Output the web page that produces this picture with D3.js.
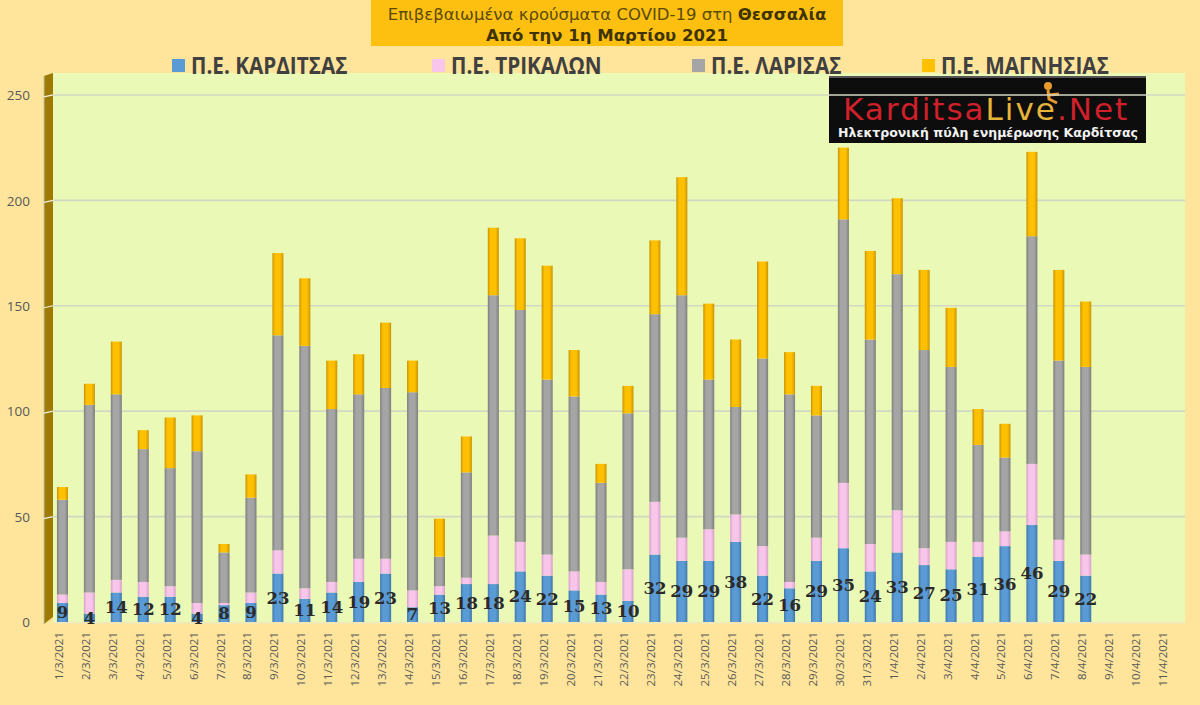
<!DOCTYPE html>
<html><head><meta charset="utf-8">
<script src="https://cdn.jsdelivr.net/npm/d3@7/dist/d3.min.js"></script>
<style>
html,body{margin:0;padding:0;background:#FEE59B;}
svg{display:block;}
</style></head>
<body>
<svg id="chart" width="1200" height="705"></svg>
<script>
const dates = ["1/3/2021","2/3/2021","3/3/2021","4/3/2021","5/3/2021","6/3/2021","7/3/2021","8/3/2021","9/3/2021","10/3/2021",
"11/3/2021","12/3/2021","13/3/2021","14/3/2021","15/3/2021","16/3/2021","17/3/2021","18/3/2021","19/3/2021","20/3/2021",
"21/3/2021","22/3/2021","23/3/2021","24/3/2021","25/3/2021","26/3/2021","27/3/2021","28/3/2021","29/3/2021","30/3/2021",
"31/3/2021","1/4/2021","2/4/2021","3/4/2021","4/4/2021","5/4/2021","6/4/2021","7/4/2021","8/4/2021","9/4/2021",
"10/4/2021","11/4/2021"];
const karditsa = [9,4,14,12,12,4,8,9,23,11,14,19,23,7,13,18,18,24,22,15,13,10,32,29,29,38,22,16,29,35,24,33,27,25,31,36,46,29,22,0,0,0];
const trikala  = [4,10,6,7,5,5,1,5,11,5,5,11,7,8,4,3,23,14,10,9,6,15,25,11,15,13,14,3,11,31,13,20,8,13,7,7,29,10,10,0,0,0];
const larisa   = [45,89,88,63,56,72,24,45,102,115,82,78,81,94,14,50,114,110,83,83,47,74,89,115,71,51,89,89,58,125,97,112,94,83,46,35,108,85,89,0,0,0];
const magnisia = [6,10,25,9,24,17,4,11,39,32,23,19,31,15,18,17,32,34,54,22,9,13,35,56,36,32,46,20,14,34,42,36,38,28,17,16,40,43,31,0,0,0];
const seriesNames = ["Π.Ε. ΚΑΡΔΙΤΣΑΣ","Π.Ε. ΤΡΙΚΑΛΩΝ","Π.Ε. ΛΑΡΙΣΑΣ","Π.Ε. ΜΑΓΝΗΣΙΑΣ"];
const yTicks = [0,50,100,150,200,250];
const titleLine1 = "Επιβεβαιωμένα κρούσματα COVID-19 στη ";
const titleBold = "Θεσσαλία";
const titleLine2 = "Από την 1η Μαρτίου 2021";

const colors = ["#5B9BD5","#F7C6EA","#A5A5A5","#FFC000"];
const edges  = ["#3F77AC","#D9A0CB","#7E7E7E","#C99500"];

const svg = d3.select("#chart");
const table = dates.map((d,i)=>({date:d, k:karditsa[i], t:trikala[i], l:larisa[i], m:magnisia[i]}));
const keys = ["k","t","l","m"];
const stack = d3.stack().keys(keys)(table);

const x = d3.scaleBand().domain(dates).range([49,1180]).paddingInner(0.59).paddingOuter(0.295);
const y = d3.scaleLinear().domain([0,260.4]).range([622,73]);

// gradients
const defs = svg.append("defs");
colors.forEach((c,i)=>{
  const g = defs.append("linearGradient").attr("id","g"+i).attr("x1","0").attr("x2","1").attr("y1","0").attr("y2","0");
  g.append("stop").attr("offset","0").attr("stop-color",edges[i]);
  g.append("stop").attr("offset","0.25").attr("stop-color",c);
  g.append("stop").attr("offset","0.7").attr("stop-color",c);
  g.append("stop").attr("offset","1").attr("stop-color",edges[i]);
});

// background
svg.append("rect").attr("width",1200).attr("height",705).attr("fill","#FEE59B");

// plot area
const plotL = 53, plotR = 1185;
svg.append("rect").attr("x",plotL).attr("y",y.range()[1]).attr("width",plotR-plotL).attr("height",y(0)-y.range()[1]).attr("fill","#EAF9B5");

// 3D wall
svg.append("path")
  .attr("d",`M44,${y.range()[1]+3} L53,${y.range()[1]} L53,${y(0)-5} L44,${y(0)+2} Z`)
  .attr("fill","#9E7B00");
svg.append("line").attr("x1",44).attr("x2",44).attr("y1",y.range()[1]+3).attr("y2",y(0)+2).attr("stroke","#b8c4b0").attr("stroke-width",1);

// logo
const logo = svg.append("g");
logo.append("rect").attr("x",829).attr("y",76).attr("width",317).attr("height",67).attr("fill","#0d0d0d");
logo.append("rect").attr("x",829).attr("y",76).attr("width",317).attr("height",2).attr("fill","#555");
const lt = logo.append("text").attr("x",843).attr("y",120).attr("font-family","'DejaVu Sans', sans-serif").attr("font-size",31).attr("letter-spacing",2);
lt.append("tspan").attr("fill","#D0202A").text("Karditsa");
lt.append("tspan").attr("fill","#E7B43A").text("Live");
lt.append("tspan").attr("fill","#D0202A").text(".Net");
logo.append("circle").attr("cx",1048).attr("cy",86).attr("r",4).attr("fill","#E89A2A");
logo.append("path").attr("d","M1048,90 L1049,99 L1057,103 M1049,95 L1059,94").attr("stroke","#E89A2A").attr("stroke-width",3).attr("fill","none");
logo.append("text").attr("x",988).attr("y",137).attr("text-anchor","middle").attr("fill","#f2f2f2")
  .attr("font-family","'DejaVu Sans', sans-serif").attr("font-weight","bold").attr("font-size",12.5)
  .text("Ηλεκτρονική πύλη ενημέρωσης Καρδίτσας");

// gridlines
svg.append("g").selectAll("line").data(yTicks.filter(v=>v>0)).join("line")
  .attr("x1",plotL).attr("x2",plotR).attr("y1",d=>y(d)).attr("y2",d=>y(d))
  .attr("stroke","#D3D7C4").attr("stroke-width",1.6);
svg.append("g").selectAll("line").data(yTicks.filter(v=>v>0)).join("line")
  .attr("x1",44).attr("x2",53).attr("y1",d=>y(d)+2).attr("y2",d=>y(d))
  .attr("stroke","#f0f0e0").attr("stroke-width",1.2);
// floor
svg.append("line").attr("x1",plotL).attr("x2",plotR).attr("y1",y(0)+1).attr("y2",y(0)+1).attr("stroke","#F3E7B4").attr("stroke-width",2);

// y axis labels via axis
const yAxis = d3.axisLeft(y).tickValues(yTicks).tickSize(0).tickPadding(0);
const ya = svg.append("g").attr("transform","translate(30,0)").call(yAxis);
ya.select(".domain").remove();
ya.selectAll("text").attr("font-family","'Open Sans', sans-serif").attr("font-size",13.5).attr("fill","#595959").attr("dy","0.35em");

// bars
svg.append("g").selectAll("g").data(stack).join("g")
  .attr("fill",(d,i)=>`url(#g${i})`)
  .selectAll("rect").data(d=>d).join("rect")
  .attr("x",d=>x(d.data.date)).attr("width",x.bandwidth())
  .attr("y",d=>y(d[1])).attr("height",d=>Math.max(0,y(d[0])-y(d[1])));

// data labels (Karditsa)
svg.append("g").selectAll("text").data(table.filter(d=>d.k>0)).join("text")
  .attr("x",d=>x(d.date)+x.bandwidth()/2)
  .attr("y",d=>y(d.k/2))
  .attr("dy","0.35em")
  .attr("text-anchor","middle")
  .attr("font-family","'DejaVu Serif', serif").attr("font-weight","bold").attr("font-size",16.5)
  .attr("fill","#2A2A2A")
  .text(d=>d.k);

// x axis labels
const xAxis = d3.axisBottom(x).tickSize(0).tickPadding(0);
const xa = svg.append("g").attr("transform",`translate(-3.5,${y(0)})`).call(xAxis);
xa.select(".domain").remove();
xa.selectAll("text")
  .attr("font-family","'Open Sans', sans-serif").attr("font-size",11.5).attr("fill","#595959")
  .attr("text-anchor","end").attr("transform","rotate(-90)")
  .attr("x",-10).attr("y",0).attr("dy","0.35em");

// title box
svg.append("rect").attr("x",371).attr("y",0).attr("width",472).attr("height",46).attr("fill","#FDC011");
const t1 = svg.append("text").attr("x",607).attr("y",20).attr("text-anchor","middle")
  .attr("font-family","'DejaVu Sans', sans-serif").attr("font-size",16.5).attr("fill","#5A4A06");
t1.append("tspan").text(titleLine1);
t1.append("tspan").attr("font-weight","bold").attr("fill","#3F3400").text(titleBold);
svg.append("text").attr("x",607).attr("y",41).attr("text-anchor","middle")
  .attr("font-family","'DejaVu Sans', sans-serif").attr("font-weight","bold").attr("font-size",16.5).attr("fill","#3F3400")
  .text(titleLine2);

// legend
const legX = [172,432,692,922];
const leg = svg.append("g").selectAll("g").data(seriesNames).join("g")
  .attr("transform",(d,i)=>`translate(${legX[i]},66)`);
leg.append("rect").attr("x",0).attr("y",-7).attr("width",13).attr("height",13).attr("fill",(d,i)=>colors[i]);
leg.append("text").attr("transform","translate(19,0) scale(0.9,1)").attr("dy","0.35em")
  .attr("font-family","'Open Sans', sans-serif").attr("font-weight","bold").attr("font-size",23).attr("fill","#404040")
  .text(d=>d);
</script>
</body></html>
